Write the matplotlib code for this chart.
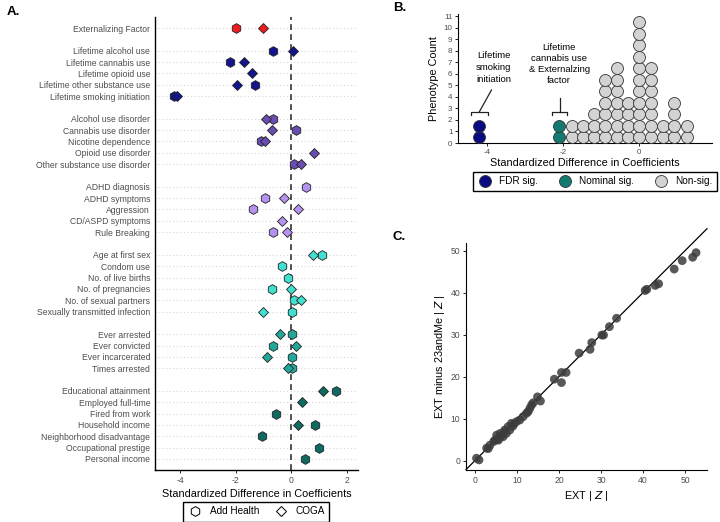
import numpy as np
import matplotlib.pyplot as plt
from matplotlib.lines import Line2D

plt.rcParams['font.family'] = ['Liberation Sans', 'DejaVu Sans']
plt.rcParams['axes.unicode_minus'] = False

# ---- Panel A data ----
groups = [
    ["Externalizing Factor"],
    ["Lifetime alcohol use", "Lifetime cannabis use", "Lifetime opioid use",
     "Lifetime other substance use", "Lifetime smoking initiation"],
    ["Alcohol use disorder", "Cannabis use disorder", "Nicotine dependence",
     "Opioid use disorder", "Other substance use disorder"],
    ["ADHD diagnosis", "ADHD symptoms", "Aggression", "CD/ASPD symptoms", "Rule Breaking"],
    ["Age at first sex", "Condom use", "No. of live births", "No. of pregnancies",
     "No. of sexual partners", "Sexually transmitted infection"],
    ["Ever arrested", "Ever convicted", "Ever incarcerated", "Times arrested"],
    ["Educational attainment", "Employed full-time", "Fired from work", "Household income",
     "Neighborhood disadvantage", "Occupational prestige", "Personal income"],
]
group_colors = ["#ee1c1c", "#14148c", "#6a4db0", "#b592f2", "#40e0d0", "#22a89a", "#0f6b62"]

nan = np.nan
add_health = [
    [-2.0],
    [-0.64, -2.2, nan, -1.32, -4.2],
    [-0.64, 0.18, -1.09, nan, 0.11],
    [0.53, -0.96, -1.39, nan, -0.66],
    [1.1, -0.33, -0.12, -0.69, 0.11, 0.02],
    [0.02, -0.67, 0.02, 0.02],
    [1.62, nan, -0.55, 0.86, -1.05, 0.98, 0.5],
]
coga = [
    [-1.0],
    [0.08, -1.69, -1.4, -1.94, -4.12],
    [-0.91, -0.69, -0.94, 0.8, 0.36],
    [nan, -0.25, 0.24, -0.34, -0.16],
    [0.78, nan, nan, 0.0, 0.36, -1.02],
    [-0.42, 0.17, -0.87, -0.1],
    [1.14, 0.38, nan, 0.26, nan, nan, nan],
]

# ---- Panel B data ----
bin_centers = [-4.2, -2.1, -1.77, -1.48, -1.18, -0.89, -0.59, -0.28, 0.01, 0.32, 0.62, 0.92, 1.25]
bin_counts = [2, 2, 2, 2, 3, 6, 7, 4, 11, 7, 2, 4, 2]
bin_sig = ["FDR", "Nominal"] + ["Non"] * 11
sig_colors = {"FDR": "#0b0b80", "Nominal": "#127a70", "Non": "#d3d3d3"}

# ---- Panel C data ----
ext_z = [0.4, 1.0, 2.8, 3.2, 3.6, 4.5, 4.8, 5.2, 5.5, 5.6, 6.0, 6.2, 6.7, 7.0, 7.1,
         7.5, 7.9, 8.3, 8.7, 9.0, 9.3, 9.9, 10.7, 11.5, 12.3, 12.7, 13.1, 13.5, 13.9,
         14.9, 15.6, 18.9, 20.6, 20.6, 21.7, 24.8, 27.4, 27.8, 30.2, 30.6, 32.0, 33.7,
         40.5, 40.9, 42.9, 43.7, 47.4, 49.3, 51.8, 52.6]
minus_z = [0.6, 0.2, 3.0, 2.9, 3.7, 4.6, 4.9, 6.1, 5.2, 4.9, 6.5, 5.9, 5.7, 6.8, 7.3,
           6.5, 8.1, 7.3, 8.9, 8.2, 8.7, 9.3, 9.7, 10.5, 11.3, 11.7, 12.5, 13.3, 13.8,
           15.2, 14.2, 19.4, 18.6, 21.0, 21.0, 25.6, 26.5, 28.1, 29.9, 29.9, 31.9, 33.9,
           40.5, 40.8, 41.7, 42.1, 45.6, 47.6, 48.4, 49.5]

TICK_GRAY = "#4d4d4d"

fig = plt.figure(figsize=(7.2, 5.22), dpi=100)

# ================= Panel A =================
axA = fig.add_axes([155 / 720, 1 - 470 / 522, 203 / 720, 453 / 522])
pos = 0
ypos, ylabels = [], []
for g, labels in enumerate(groups):
    col = group_colors[g]
    for i, lab in enumerate(labels):
        ypos.append(pos)
        ylabels.append(lab)
        axA.plot(add_health[g][i], pos, marker="h", ms=7.0, mfc=col, mec="#222222",
                 mew=0.6, ls="none", zorder=3)
        axA.plot(coga[g][i], pos, marker="D", ms=5.0, mfc=col, mec="#222222",
                 mew=0.6, ls="none", zorder=4)
        pos += 1
    pos += 1

axA.set_xlim(-4.9, 2.4)
axA.set_ylim(38.97, -0.97)
axA.set_yticks(ypos, ylabels)
axA.set_xticks([-4, -2, 0, 2])
axA.tick_params(axis="y", length=0, pad=3.5, labelsize=6.2, labelcolor=TICK_GRAY)
axA.tick_params(axis="x", length=2, width=0.6, pad=2, labelsize=6.2, labelcolor=TICK_GRAY)
axA.grid(axis="y", color="#d6d6d6", ls=(0, (1, 2.2)), lw=0.8)
axA.axvline(0, color="#333333", lw=1.2, ls=(0, (3.5, 2.5)), zorder=2)
for s in ["top", "right"]:
    axA.spines[s].set_visible(False)
for s in ["left", "bottom"]:
    axA.spines[s].set_linewidth(1.0)
axA.set_xlabel("Standardized Difference in Coefficients", fontsize=7.8, labelpad=3)

legA = [Line2D([], [], marker="h", ms=7.0, mfc="white", mec="black", mew=0.7, ls="none"),
        Line2D([], [], marker="D", ms=5.0, mfc="white", mec="black", mew=0.7, ls="none")]
fig.legend(legA, ["Add Health", "COGA"], loc="center", bbox_to_anchor=(256 / 720, 1 - 511.5 / 522),
           ncol=2, fontsize=7.2, frameon=True, fancybox=False, edgecolor="black",
           framealpha=1, handletextpad=0.7, columnspacing=1.4, borderpad=0.5,
           handlelength=1.5)

# ================= Panel B =================
axB = fig.add_axes([458 / 720, 1 - 143 / 522, 254 / 720, 129 / 522])
for x, n, s in zip(bin_centers, bin_counts, bin_sig):
    ys = np.arange(n) + 0.5
    axB.plot([x] * n, ys, marker="o", ms=8.6, mfc=sig_colors[s], mec="#333333",
             mew=0.6, ls="none", zorder=3, clip_on=False)
axB.set_xlim(-4.76, 1.92)
axB.set_ylim(0, 11.2)
axB.set_yticks(range(12))
axB.set_xticks([-4, -2, 0])
axB.tick_params(axis="both", length=2, width=0.6, pad=2, labelsize=5.8, labelcolor=TICK_GRAY)
for s in ["top", "right"]:
    axB.spines[s].set_visible(False)
axB.set_xlabel("Standardized Difference in Coefficients", fontsize=7.8, labelpad=2)
axB.set_ylabel("Phenotype Count", fontsize=7.8, labelpad=3)

# brackets and labels
for (x0, x1), top in [((-4.42, -3.97), 2.7), ((-2.29, -1.89), 2.7)]:
    axB.plot([x0, x0, x1, x1], [top - 0.25, top, top, top - 0.25], color="#222222", lw=0.9)
axB.plot([-4.2, -3.88], [2.7, 4.6], color="#222222", lw=0.9)
axB.plot([-2.09, -2.09], [2.7, 3.95], color="#222222", lw=0.9)
axB.text(-3.82, 6.55, "Lifetime\nsmoking\ninitiation", ha="center", va="center",
         fontsize=6.8, linespacing=1.45)
axB.text(-2.1, 6.86, "Lifetime\ncannabis use\n& Externalzing\nfactor", ha="center",
         va="center", fontsize=6.8, linespacing=1.3)

legB = [Line2D([], [], marker="o", ms=8.6, mfc=sig_colors[k], mec="#333333", mew=0.6, ls="none")
        for k in ["FDR", "Nominal", "Non"]]
fig.legend(legB, ["FDR sig.", "Nominal sig.", "Non-sig."], loc="center",
           bbox_to_anchor=(595 / 720, 1 - 181 / 522), ncol=3, fontsize=7.2, frameon=True,
           fancybox=False, edgecolor="black", framealpha=1, handletextpad=0.7,
           columnspacing=2.0, borderpad=0.45, handlelength=1.4)

# ================= Panel C =================
axC = fig.add_axes([466 / 720, 1 - 470 / 522, 241 / 720, 227 / 522])
axC.scatter(ext_z, minus_z, s=40, color="#3c3c3c", alpha=0.85, edgecolors="none", zorder=3)
axC.plot([-2.1, 55.2], [-2.1, 55.2], color="black", lw=0.9, clip_on=False, zorder=2)
axC.set_xlim(-2.1, 55.2)
axC.set_ylim(-2.2, 51.8)
axC.set_xticks([0, 10, 20, 30, 40, 50])
axC.set_yticks([0, 10, 20, 30, 40, 50])
axC.tick_params(axis="both", length=2, width=0.6, pad=2, labelsize=6.2, labelcolor=TICK_GRAY)
for s in ["top", "right"]:
    axC.spines[s].set_visible(False)
axC.set_xlabel(r"EXT | $\it{Z}$ |", fontsize=7.8, labelpad=3)
axC.set_ylabel(r"EXT minus 23andMe | $\it{Z}$ |", fontsize=7.8, labelpad=3)

# panel letters
fig.text(7 / 720, 1 - 12 / 522, "A.", fontsize=9.5, fontweight="bold", va="center")
fig.text(393 / 720, 1 - 8 / 522, "B.", fontsize=9.5, fontweight="bold", va="center")
fig.text(393 / 720, 1 - 237 / 522, "C.", fontsize=9.5, fontweight="bold", va="center")

fig.savefig("out.png", dpi=100)
